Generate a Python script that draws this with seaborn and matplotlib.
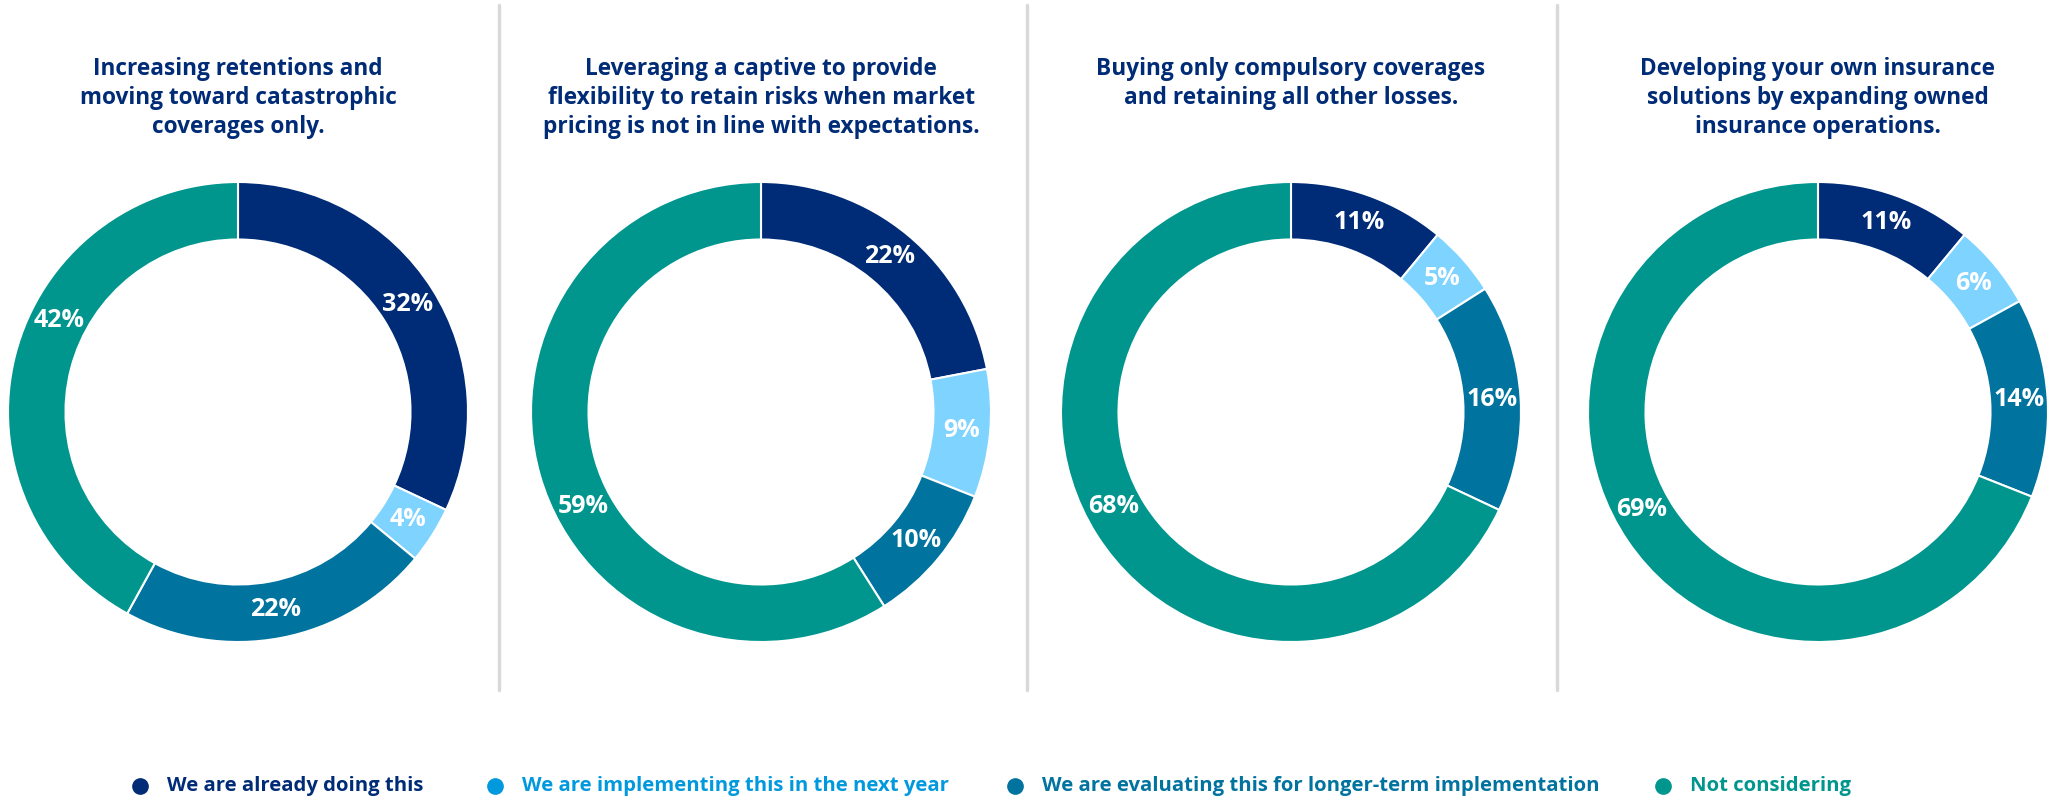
import matplotlib
matplotlib.use("Agg")
import matplotlib.pyplot as plt
import numpy as np
import seaborn as sns

# Survey responses per strategy (percent)
titles = [
    "Increasing retentions and\nmoving toward catastrophic\ncoverages only.",
    "Leveraging a captive to provide\nflexibility to retain risks when market\npricing is not in line with expectations.",
    "Buying only compulsory coverages\nand retaining all other losses.",
    "Developing your own insurance\nsolutions by expanding owned\ninsurance operations.",
]
categories = [
    "We are already doing this",
    "We are implementing this in the next year",
    "We are evaluating this for longer-term implementation",
    "Not considering",
]
already_doing = [32, 22, 11, 11]
implementing_next_year = [4, 9, 5, 6]
evaluating_longer_term = [22, 10, 16, 14]
not_considering = [42, 59, 68, 69]

slice_colors = sns.color_palette(["#002B76", "#7FD3FF", "#00739F", "#00968E"])
legend_colors = sns.color_palette(["#002B76", "#0099DD", "#00739F", "#00968E"])
title_color = "#002B76"
divider_color = "#D9D9D9"

# label angle (degrees, counter-clockwise from 3 o'clock) for the large
# "Not considering" slice in each ring
big_label_angle = [153, 208, 208, 209]

sns.set_theme(style="white")
plt.rcParams["font.family"] = ["Open Sans", "Noto Sans", "DejaVu Sans"]

W, H = 2064, 799
fig = plt.figure(figsize=(W / 100, H / 100), dpi=100)
fig.patch.set_facecolor("white")

centers_x = [238, 761, 1291, 1818]
center_y = 412
radius_px = 230
ring = 0.25
label_r = 1 - ring / 2

for i, cx in enumerate(centers_x):
    ax = fig.add_axes([(cx - radius_px) / W, (H - center_y - radius_px) / H,
                       2 * radius_px / W, 2 * radius_px / H])
    vals = [already_doing[i], implementing_next_year[i],
            evaluating_longer_term[i], not_considering[i]]
    wedges, texts, autotexts = ax.pie(
        vals, colors=slice_colors, startangle=90, counterclock=False,
        radius=1, autopct=lambda p: f"{p:.0f}%", pctdistance=label_r,
        wedgeprops=dict(width=ring, edgecolor="white", linewidth=1.5),
        textprops=dict(color="white", fontsize=18, fontweight="bold"),
    )
    a = np.deg2rad(big_label_angle[i])
    autotexts[-1].set_position((label_r * np.cos(a), label_r * np.sin(a)))
    ax.set_xlim(-1.0, 1.0)
    ax.set_ylim(-1.0, 1.0)
    ax.set_aspect("equal")
    ax.axis("off")
    fig.text(cx / W, 1 - 57 / H, titles[i], ha="center", va="top",
             fontsize=16.3, fontweight="bold", color=title_color,
             linespacing=1.27)

# vertical dividers between panels
for dx in [499, 1027, 1557]:
    fig.add_artist(plt.Line2D([dx / W, dx / W], [1 - 5 / H, 1 - 690 / H],
                              color=divider_color, linewidth=2.5))

# legend row
marker_x = [140, 495, 1015, 1663]
legend_y = 1 - 786 / H
for mx, label, col in zip(marker_x, categories, legend_colors):
    fig.add_artist(plt.Line2D([mx / W], [legend_y], marker="o", markersize=11,
                              color=col, linestyle="none"))
    fig.text((mx + 27) / W, legend_y, label, ha="left", va="center",
             fontsize=14.6, fontweight="bold", color=col)

fig.savefig("out.png", dpi=100, facecolor="white")
